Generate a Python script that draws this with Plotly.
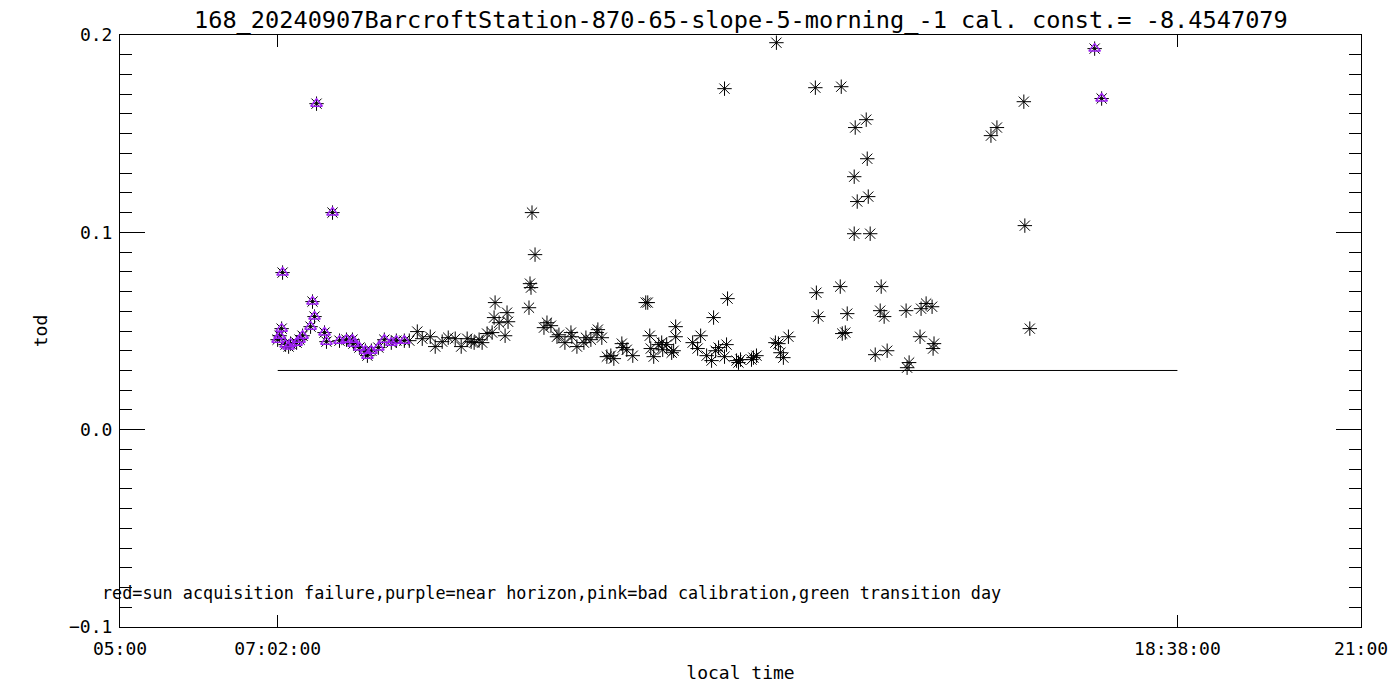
import plotly.graph_objects as go

# ---- data (local time in decimal hours, tod) ----
# points flagged "near horizon" (purple)
t_horizon = [7.032, 7.058, 7.084, 7.096, 7.135, 7.174, 7.199, 7.277, 7.315, 7.354,
             7.457, 7.482, 7.508, 7.534, 7.637, 7.662, 7.740, 7.830, 7.920, 7.997,
             8.010, 8.087, 8.164, 8.190, 8.241, 8.331, 8.408, 8.498, 8.563, 8.666,
             17.566, 17.656]
tod_horizon = [0.0456, 0.0476, 0.0512, 0.0796, 0.0431, 0.0421, 0.0436, 0.0441, 0.0456, 0.0476,
               0.0522, 0.0649, 0.0573, 0.1652, 0.0492, 0.0446, 0.1100, 0.0451, 0.0456, 0.0456,
               0.0436, 0.0416, 0.0400, 0.0375, 0.0400, 0.0416, 0.0456, 0.0441, 0.0451, 0.0451,
               0.1931, 0.1678]

# regular points
t_ok = [8.730, 8.833, 8.897, 9.000, 9.064, 9.154, 9.232, 9.322, 9.399, 9.476,
        9.527, 9.566, 9.630, 9.669, 9.733, 9.798, 9.823, 9.836, 9.888, 9.965,
        9.990, 10.003, 10.273, 10.286, 10.299, 10.312, 10.351, 10.466, 10.505, 10.556,
        10.634, 10.659, 10.736, 10.814, 10.826, 10.891, 10.981, 11.007, 11.071, 11.148,
        11.161, 11.212, 11.277, 11.328, 11.367, 11.470, 11.482, 11.534, 11.611, 11.778,
        11.804, 11.830, 11.843, 11.881, 11.946, 11.984, 11.997, 12.048, 12.113, 12.138,
        12.164, 12.164, 12.383, 12.447, 12.486, 12.563, 12.627, 12.653, 12.679, 12.717,
        12.794, 12.794, 12.820, 12.833, 12.949, 12.974, 13.000, 13.142, 13.167, 13.206,
        13.450, 13.463, 13.489, 13.515, 13.553, 13.618, 13.965, 13.978, 14.003, 14.286,
        14.299, 14.312, 14.351, 14.376, 14.466, 14.466, 14.479, 14.505, 14.621, 14.634,
        14.647, 14.672, 14.737, 14.801, 14.814, 14.852, 14.891, 15.135, 15.148, 15.174,
        15.315, 15.328, 15.393, 15.470, 15.483, 15.495, 16.229, 16.306, 16.653, 16.666,
        16.730]
tod_ok = [0.0451, 0.0497, 0.0461, 0.0471, 0.0421, 0.0446, 0.0466, 0.0461, 0.0421, 0.0461,
          0.0446, 0.0441, 0.0456, 0.0441, 0.0487, 0.0492, 0.0568, 0.0644, 0.0542, 0.0476,
          0.0593, 0.0547, 0.0618, 0.0740, 0.0720, 0.1100, 0.0887, 0.0517, 0.0542, 0.0527,
          0.0471, 0.0481, 0.0441, 0.0492, 0.0471, 0.0421, 0.0441, 0.0466, 0.0456, 0.0492,
          0.0507, 0.0466, 0.0370, 0.0375, 0.0360, 0.0436, 0.0416, 0.0405, 0.0375, 0.0644,
          0.0644, 0.0476, 0.0411, 0.0370, 0.0431, 0.0441, 0.0405, 0.0431, 0.0390, 0.0400,
          0.0522, 0.0471, 0.0441, 0.0411, 0.0476, 0.0375, 0.0350, 0.0568, 0.0400, 0.0416,
          0.1728, 0.0370, 0.0431, 0.0664, 0.0350, 0.0340, 0.0355, 0.0355, 0.0365, 0.0375,
          0.0441, 0.1961, 0.0436, 0.0390, 0.0365, 0.0471, 0.1733, 0.0694, 0.0573, 0.0725,
          0.1738, 0.0487, 0.0492, 0.0588, 0.1282, 0.0993, 0.1531, 0.1156, 0.1571, 0.1373,
          0.1181, 0.0993, 0.0380, 0.0603, 0.0725, 0.0573, 0.0400, 0.0603, 0.0314, 0.0340,
          0.0471, 0.0613, 0.0639, 0.0623, 0.0411, 0.0436, 0.1490, 0.1531, 0.1662, 0.1034,
          0.0512]

# reference line: threshold between sunrise and sunset
line_t = [7.0333, 18.6333]
line_tod = [0.03, 0.03]

x_tickvals = [5.0, 7.0333, 18.6333, 21.0]
x_ticktext = ["05:00", "07:02:00", "18:38:00", "21:00"]
y_tickvals = [-0.1, 0.0, 0.1, 0.2]
y_ticktext = ["\u22120.1", "0.0", "0.1", "0.2"]

title_text = "168_20240907BarcroftStation-870-65-slope-5-morning_-1 cal. const.= -8.4547079"
note_text = "red=sun acquisition failure,purple=near horizon,pink=bad calibration,green transition day"

FONT = "DejaVu Sans Mono"
PURPLE = "#9B1FF0"

W, H = 1392, 692          # page has an 8px body margin
L, R, T, B = 112, 36, 27, 73
PW, PH = W - L - R, H - T - B

fig = go.Figure()

fig.add_trace(go.Scatter(
    x=line_t, y=line_tod, mode="lines",
    line=dict(color="black", width=1), hoverinfo="skip", showlegend=False))

fig.add_trace(go.Scatter(
    x=t_horizon + t_ok, y=tod_horizon + tod_ok, mode="markers",
    marker=dict(symbol="asterisk-open", size=12, color="black",
                line=dict(color="black", width=1)),
    showlegend=False))

fig.add_trace(go.Scatter(
    x=t_horizon, y=tod_horizon, mode="markers",
    marker=dict(symbol="triangle-up-open", size=10, color=PURPLE,
                line=dict(color=PURPLE, width=1.5)),
    showlegend=False))

fig.update_layout(
    width=W, height=H,
    margin=dict(l=L, r=R, t=T, b=B),
    paper_bgcolor="white", plot_bgcolor="white",
    font=dict(family=FONT, size=18, color="black"),
    annotations=[
        dict(text=title_text, xref="paper", yref="paper",
             x=0.5, y=1 + 15 / PH, xanchor="center", yanchor="middle",
             showarrow=False, font=dict(family=FONT, size=23.6, color="black")),
        dict(text=note_text, xref="paper", yref="paper",
             x=-20 / PW, y=34 / PH, xanchor="left", yanchor="middle",
             showarrow=False, font=dict(family=FONT, size=16.8, color="black")),
    ],
)

fig.update_xaxes(
    range=[5, 21], tickmode="array", tickvals=x_tickvals, ticktext=x_ticktext,
    ticks="inside", ticklen=12, tickwidth=1, tickcolor="black",
    showline=True, linecolor="black", linewidth=1, mirror="ticks",
    showgrid=False, zeroline=False, ticklabelstandoff=5,
    title=dict(text="local time", font=dict(family=FONT, size=18), standoff=8),
)

fig.update_yaxes(
    range=[-0.1, 0.2], tickmode="array", tickvals=y_tickvals, ticktext=y_ticktext,
    ticks="inside", ticklen=25, tickwidth=1, tickcolor="black",
    minor=dict(ticks="inside", ticklen=12, dtick=0.01, tick0=0, tickcolor="black",
               tickwidth=1, showgrid=False),
    showline=True, linecolor="black", linewidth=1, mirror="ticks",
    showgrid=False, zeroline=False, ticklabelstandoff=3,
    title=dict(text="tod", font=dict(family=FONT, size=18), standoff=16),
)

fig.write_html("out.html")
